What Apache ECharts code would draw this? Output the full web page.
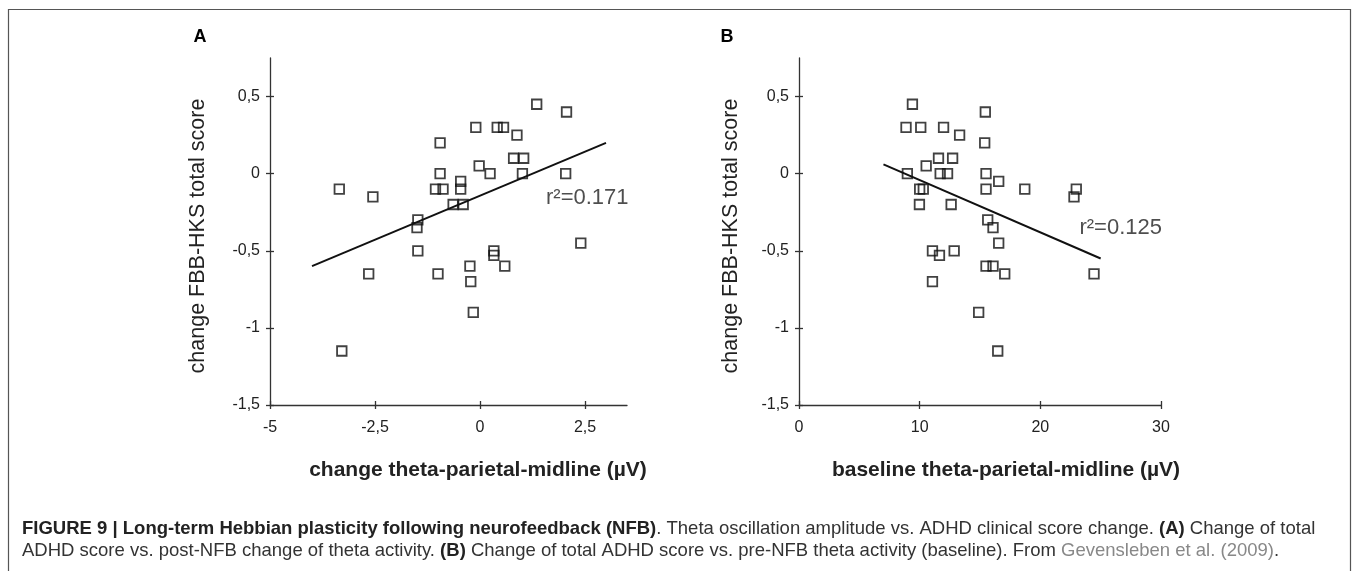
<!DOCTYPE html>
<html>
<head>
<meta charset="utf-8">
<script src="https://cdn.jsdelivr.net/npm/echarts@6/dist/echarts.min.js"></script>
<style>
html,body{margin:0;padding:0;background:#fff;}
#chart{width:1356px;height:571px;}
</style>
</head>
<body>
<div id="chart"></div>
<script>
// ---- Data ----
const xA = [-3.35, -2.55, -3.29, -2.65, -1.48, -1.5, -1.48, -0.95, -0.95, -1.06, -0.88, -1.0, -0.46, -0.46, -0.64, -0.40, -0.10, -0.02, 0.24, -0.24, -0.22, -0.16, 0.33, 0.33, 0.59, 0.41, 0.56, 0.88, 0.80, 1.04, 1.01, 1.35, 2.06, 2.04, 2.40];
const yA = [-0.1, -0.15, -1.15, -0.65, -0.3, -0.35, -0.5, 0.2, 0, -0.1, -0.1, -0.65, -0.05, -0.1, -0.2, -0.2, 0.3, 0.05, 0, -0.6, -0.7, -0.9, -0.5, -0.53, -0.6, 0.3, 0.3, 0.25, 0.1, 0.1, 0, 0.45, 0.4, 0, -0.45];
const xB = [9.40, 8.87, 10.09, 11.98, 13.31, 15.44, 15.39, 11.56, 12.73, 10.54, 8.98, 11.70, 12.31, 15.50, 16.55, 10.0, 10.3, 15.50, 18.71, 22.98, 22.79, 9.98, 12.61, 15.64, 16.08, 16.55, 11.06, 11.64, 12.86, 15.50, 16.08, 17.05, 24.45, 11.06, 14.89, 16.47];
const yB = [0.45, 0.3, 0.3, 0.3, 0.25, 0.4, 0.2, 0.1, 0.1, 0.05, 0, 0, 0, 0, -0.05, -0.1, -0.1, -0.1, -0.1, -0.1, -0.15, -0.2, -0.2, -0.3, -0.35, -0.45, -0.5, -0.53, -0.5, -0.6, -0.6, -0.65, -0.65, -0.7, -0.9, -1.15];
const trendAX = [-4, 3];
const trendAY = [-0.6, 0.2];
const trendBX = [7, 25];
const trendBY = [0.06, -0.55];
const r2A = {x: 1.56, y: -0.16, text: 'r\u00b2=0.171'};
const r2B = {x: 23.2, y: -0.35, text: 'r\u00b2=0.125'};
const yTicks = [-1.5, -1, -0.5, 0, 0.5];
const xTicksA = [-5, -2.5, 0, 2.5];
const xTicksB = [0, 10, 20, 30];
const yTitle = 'change FBB-HKS total score';
const xTitleA = 'change theta-parietal-midline (\u00b5V)';
const xTitleB = 'baseline theta-parietal-midline (\u00b5V)';
const panelA = 'A', panelB = 'B';
const cap1Bold = 'FIGURE 9 | Long-term Hebbian plasticity following neurofeedback (NFB)';
const cap1Rest = '. Theta oscillation amplitude vs. ADHD clinical score change. ';
const cap1A = '(A)';
const cap1End = ' Change of total';
const cap2a = 'ADHD score vs. post-NFB change of theta activity. ';
const cap2B = '(B)';
const cap2b = ' Change of total ADHD score vs. pre-NFB theta activity (baseline). From ';
const cap2Ref = 'Gevensleben et al. (2009)';
const cap2End = '.';

const zip = (a, b) => a.map((v, i) => [v, b[i]]);
const fmt = v => String(v).replace('.', ',');
const FONT = "'Liberation Sans', Arial, sans-serif";
const INK = '#222';

function xAxes(gi, min, max, ticks) {
  return [{
    gridIndex: gi, type: 'value', min: min, max: max, position: 'bottom',
    axisLine: {show: true, onZero: false, lineStyle: {color: '#333', width: 1.3}},
    axisTick: {show: true, customValues: ticks, length: 4, lineStyle: {color: '#333', width: 1.3}},
    axisLabel: {customValues: ticks, formatter: fmt, fontSize: 16, color: INK, fontFamily: FONT, margin: 15},
    splitLine: {show: false}
  }, {
    gridIndex: gi, type: 'value', min: min, max: max, position: 'bottom',
    axisLine: {show: false, onZero: false},
    axisTick: {show: true, inside: true, customValues: ticks, length: 4, lineStyle: {color: '#333', width: 1.3}},
    axisLabel: {show: false}, splitLine: {show: false}
  }];
}
function yAxes(gi) {
  return [{
    gridIndex: gi, type: 'value', min: -1.5, max: 0.75, position: 'left',
    axisLine: {show: true, onZero: false, lineStyle: {color: '#333', width: 1.3}},
    axisTick: {show: true, customValues: yTicks, length: 4, lineStyle: {color: '#333', width: 1.3}},
    axisLabel: {customValues: yTicks, formatter: fmt, fontSize: 16, color: INK, fontFamily: FONT, margin: 10},
    splitLine: {show: false}
  }, {
    gridIndex: gi, type: 'value', min: -1.5, max: 0.75, position: 'left',
    axisLine: {show: false, onZero: false},
    axisTick: {show: true, inside: true, customValues: yTicks, length: 4, lineStyle: {color: '#333', width: 1.3}},
    axisLabel: {show: false}, splitLine: {show: false}
  }];
}

function scatter(xi, yi, data) {
  return {type: 'scatter', xAxisIndex: xi, yAxisIndex: yi, data: data, symbol: 'rect', symbolSize: 9.5,
    itemStyle: {color: 'rgba(0,0,0,0)', borderColor: '#111', borderWidth: 1.8}, silent: true};
}
function trend(xi, yi, xs, ys) {
  return {type: 'line', xAxisIndex: xi, yAxisIndex: yi, data: zip(xs, ys), symbol: 'none',
    lineStyle: {color: '#111', width: 2}, silent: true};
}
function r2(xi, yi, r) {
  return {type: 'scatter', xAxisIndex: xi, yAxisIndex: yi, data: [[r.x, r.y]], symbolSize: 1,
    itemStyle: {color: 'rgba(0,0,0,0)'}, silent: true,
    label: {show: true, position: 'right', distance: 0, formatter: r.text, fontSize: 22, color: '#222', fontFamily: FONT}};
}

const chart = echarts.init(document.getElementById('chart'), null, {renderer: 'canvas'});
chart.setOption({
  backgroundColor: '#fff',
  animation: false,
  grid: [
    {left: 270, top: 58, width: 357, height: 347},
    {left: 799, top: 58, width: 362, height: 347}
  ],
  xAxis: [].concat(xAxes(0, -5, 3.5, xTicksA), xAxes(1, 0, 30, xTicksB)),
  yAxis: [].concat(yAxes(0), yAxes(1)),
  series: [
    trend(0, 0, trendAX, trendAY),
    scatter(0, 0, zip(xA, yA)),
    r2(0, 0, r2A),
    trend(2, 2, trendBX, trendBY),
    scatter(2, 2, zip(xB, yB)),
    r2(2, 2, r2B)
  ],
  graphic: [
    {type: 'rect', shape: {x: 8.5, y: 9.5, width: 1342, height: 620}, style: {fill: 'none', stroke: '#555', lineWidth: 1.2}, silent: true},
    {type: 'text', x: 200, y: 37, style: {text: panelA, font: "bold 18px " + FONT, fill: '#000', align: 'center', verticalAlign: 'middle'}},
    {type: 'text', x: 727, y: 37, style: {text: panelB, font: "bold 18px " + FONT, fill: '#000', align: 'center', verticalAlign: 'middle'}},
    {type: 'text', x: 198, y: 236, rotation: Math.PI / 2, style: {text: yTitle, font: "21.5px " + FONT, fill: INK, align: 'center', verticalAlign: 'middle'}},
    {type: 'text', x: 731, y: 236, rotation: Math.PI / 2, style: {text: yTitle, font: "21.5px " + FONT, fill: INK, align: 'center', verticalAlign: 'middle'}},
    {type: 'text', x: 478, y: 470, style: {text: xTitleA, font: "bold 21px " + FONT, fill: INK, align: 'center', verticalAlign: 'middle'}},
    {type: 'text', x: 1006, y: 470, style: {text: xTitleB, font: "bold 21px " + FONT, fill: INK, align: 'center', verticalAlign: 'middle'}},
    {type: 'text', x: 22, y: 529, style: {
      text: '{b|' + cap1Bold + '}{r|' + cap1Rest + '}{b|' + cap1A + '}{r|' + cap1End + '}',
      verticalAlign: 'middle',
      rich: {
        b: {fontFamily: FONT, fontWeight: 'bold', fontSize: 18.5, fill: '#222'},
        r: {fontFamily: FONT, fontSize: 18.5, fill: '#333'}
      }}},
    {type: 'text', x: 22, y: 551, style: {
      text: '{r|' + cap2a + '}{b|' + cap2B + '}{r|' + cap2b + '}{g|' + cap2Ref + '}{r|' + cap2End + '}',
      verticalAlign: 'middle',
      rich: {
        b: {fontFamily: FONT, fontWeight: 'bold', fontSize: 18.5, fill: '#222'},
        r: {fontFamily: FONT, fontSize: 18.5, fill: '#333'},
        g: {fontFamily: FONT, fontSize: 18.5, fill: '#888'}
      }}}
  ]
});
</script>
</body>
</html>
